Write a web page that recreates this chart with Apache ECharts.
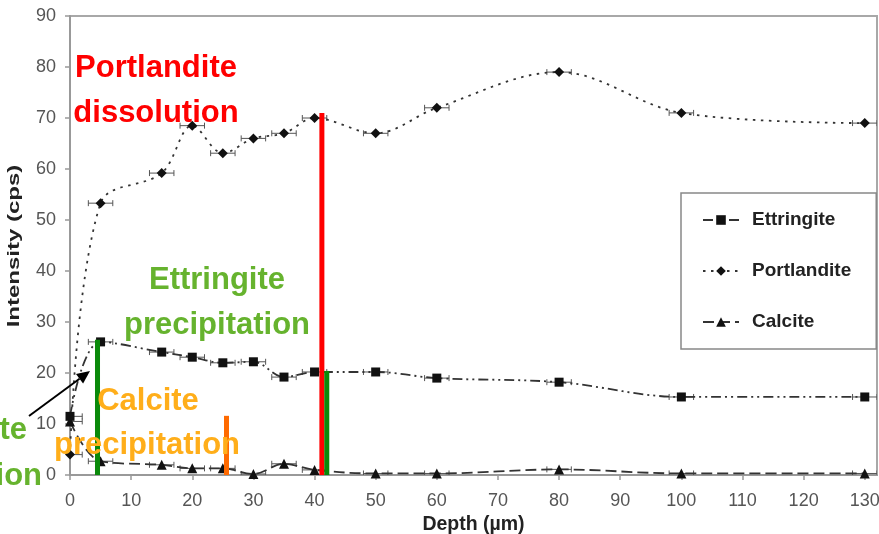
<!DOCTYPE html>
<html>
<head>
<meta charset="utf-8">
<script src="https://cdn.jsdelivr.net/npm/echarts@6/dist/echarts.min.js"></script>
<style>
  html, body { margin: 0; padding: 0; background: #fff; }
  #chart { width: 879px; height: 534px; }
</style>
</head>
<body>
<div id="chart"></div>
<script>
// Depth profile of XRD intensities (cps) versus depth (µm)
const depth       = [0, 5, 15, 20, 25, 30, 35, 40, 50, 60, 80, 100, 130];
const ettringite  = [11.5, 26.1, 24.1, 23.1, 22.0, 22.2, 19.2, 20.2, 20.2, 19.0, 18.2, 15.3, 15.3];
const portlandite = [4.0, 53.3, 59.2, 68.5, 63.1, 66.0, 67.0, 70.0, 67.0, 72.0, 79.0, 71.0, 69.0];
const calcite     = [10.5, 2.7, 2.0, 1.3, 1.3, 0.2, 2.2, 1.0, 0.3, 0.3, 1.1, 0.3, 0.3];
const depthError  = 2;            // ± µm horizontal uncertainty on every depth

// Reaction fronts: depth (µm) and height (cps) of each vertical marker
const frontDepth = [4.5, 25.6, 41.2, 42.0];
const frontTop   = [26.5, 11.6, 71.0, 20.4];

const xTicks = { min: 0, max: 132, step: 10 };
const yTicks = { min: 0, max: 90, step: 10 };

const FONT = '"Liberation Sans", Arial, Helvetica, sans-serif';
const frontColors = ['#0a8a0a', '#ff6a00', '#ff0000', '#0a8a0a'];

const pairs = ys => depth.map((d, i) => [d, ys[i]]);

function errorBars(name, ys) {
  return {
    type: 'custom',
    name: name + ' error',
    clip: true,
    z: 3,
    silent: true,
    data: pairs(ys),
    renderItem(params, api) {
      const x = api.value(0), y = api.value(1);
      const a = api.coord([x - depthError, y]);
      const b = api.coord([x + depthError, y]);
      const st = { stroke: '#555', lineWidth: 1 };
      return {
        type: 'group',
        children: [
          { type: 'line', shape: { x1: a[0], y1: a[1], x2: b[0], y2: b[1] }, style: st },
          { type: 'line', shape: { x1: a[0], y1: a[1] - 3, x2: a[0], y2: a[1] + 3 }, style: st },
          { type: 'line', shape: { x1: b[0], y1: b[1] - 3, x2: b[0], y2: b[1] + 3 }, style: st }
        ]
      };
    }
  };
}

function profile(name, ys, symbol, size, dash) {
  return {
    type: 'line',
    name,
    data: pairs(ys),
    smooth: 0.35,
    symbol,
    symbolSize: size,
    z: 4,
    itemStyle: { color: '#111' },
    lineStyle: { color: '#333', width: 1.8, type: dash }
  };
}

// Arrow built from tail/tip in pixels
function arrow(tail, tip, headLen, headHalf) {
  const dx = tip[0] - tail[0], dy = tip[1] - tail[1];
  const L = Math.hypot(dx, dy), ux = dx / L, uy = dy / L;
  const bx = tip[0] - ux * headLen, by = tip[1] - uy * headLen;
  return [
    { type: 'line', z: 20, shape: { x1: tail[0], y1: tail[1], x2: bx, y2: by },
      style: { stroke: '#000', lineWidth: 2 } },
    { type: 'polygon', z: 20,
      shape: { points: [tip, [bx - uy * headHalf, by + ux * headHalf], [bx + uy * headHalf, by - ux * headHalf]] },
      style: { fill: '#000' } }
  ];
}

function label(text, x, y, color, align) {
  return {
    type: 'text', x, y, z: 30,
    style: {
      text, fill: color, font: 'bold 31px ' + FONT,
      align: align || 'center', verticalAlign: 'middle'
    }
  };
}

const chart = echarts.init(document.getElementById('chart'), null, { renderer: 'canvas' });

chart.setOption({
  animation: false,
  backgroundColor: '#fff',
  grid: {
    left: 70, right: 2, top: 16, bottom: 59,
    outerBoundsMode: 'none',
    show: true, borderColor: '#a8a8a8', borderWidth: 2
  },
  xAxis: {
    type: 'value',
    min: xTicks.min, max: xTicks.max, interval: xTicks.step,
    name: 'Depth (µm)',
    nameLocation: 'middle',
    nameGap: 35,
    nameTextStyle: { fontFamily: FONT, fontSize: 19.5, fontWeight: 'bold', color: '#222' },
    axisLine: { lineStyle: { color: '#999', width: 2 } },
    axisTick: { show: true, length: 5, lineStyle: { color: '#999', width: 1.5 } },
    axisLabel: { fontFamily: FONT, fontSize: 18, color: '#555', margin: 17, showMaxLabel: false },
    splitLine: { show: false }
  },
  yAxis: {
    type: 'value',
    min: yTicks.min, max: yTicks.max, interval: yTicks.step,
    axisLine: { show: true, lineStyle: { color: '#999', width: 2 } },
    axisTick: { show: true, length: 5, lineStyle: { color: '#999', width: 1.5 } },
    axisLabel: { fontFamily: FONT, fontSize: 18, color: '#555', margin: 14 },
    splitLine: { show: false }
  },
  legend: {
    orient: 'vertical',
    left: 681, top: 193,
    data: ['Ettringite', 'Portlandite', 'Calcite'],
    itemWidth: 36, itemHeight: 12, itemGap: 31,
    padding: [17, 25, 17, 21],
    borderColor: '#888', borderWidth: 1.5,
    textStyle: { fontFamily: FONT, fontSize: 19, fontWeight: 'bold', color: '#222', lineHeight: 20, padding: [0, 0, 0, 8] }
  },
  series: [
    errorBars('Ettringite', ettringite),
    errorBars('Portlandite', portlandite),
    errorBars('Calcite', calcite),
    profile('Ettringite', ettringite, 'rect', 9, [10, 4, 2, 4, 2, 4]),
    profile('Portlandite', portlandite, 'diamond', 10, [2.5, 5.5]),
    profile('Calcite', calcite, 'triangle', 10, [11, 5]),
    {
      type: 'custom',
      name: 'fronts',
      silent: true,
      z: 10,
      data: frontDepth.map((d, i) => [d, frontTop[i]]),
      renderItem(params, api) {
        const p0 = api.coord([api.value(0), 0]);
        const p1 = api.coord([api.value(0), api.value(1)]);
        return {
          type: 'rect',
          shape: { x: p0[0] - 2.5, y: p1[1], width: 5, height: p0[1] - p1[1] },
          style: { fill: frontColors[params.dataIndex] }
        };
      }
    }
  ],
  graphic: [
    {
      type: 'text', x: 15, y: 246, rotation: Math.PI / 2, scaleX: 1.5, z: 30,
      style: { text: 'Intensity (cps)', font: 'bold 16px ' + FONT, fill: '#222', align: 'center', verticalAlign: 'middle' }
    },
    label('Portlandite', 156, 68, '#ff0000'),
    label('dissolution', 156, 113, '#ff0000'),
    label('Ettringite', 217, 280, '#66b32e'),
    label('precipitation', 217, 325, '#66b32e'),
    label('Calcite', 148, 401, '#ffae1a'),
    label('precipitation', 147, 445, '#ffae1a'),
    label('Ettringite', 27, 430, '#66b32e', 'right'),
    label('dissolution', 42, 476, '#66b32e', 'right'),
    ...arrow([29, 416], [90, 371], 13, 6)
  ]
});
</script>
</body>
</html>
